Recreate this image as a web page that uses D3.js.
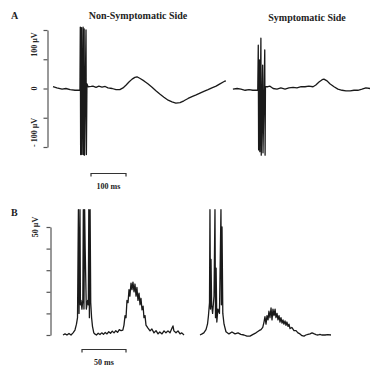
<!DOCTYPE html>
<html><head><meta charset="utf-8">
<script src="https://cdn.jsdelivr.net/npm/d3@7"></script>
<style>
html,body{margin:0;padding:0;background:#fff;}
svg text{font-family:"Liberation Serif","Times New Roman",serif;font-weight:bold;fill:#222;}
</style></head>
<body><svg id="c" width="370" height="366"></svg>
<script>
// ---------- DATA ----------
// Panel A (time in ms, amplitude in µV)
const aNonTime = [0,11,26,37,49,63,74,77,78,79,81.5,82.5,86,86.8,89,90,94.3,95.4,97,100,109,114,123,131,140,149,157,169,180,191,200,209,217,226,234,240,249,260,271,283,294,306,317,329,340,351,363,374,386,397,409,420,431,443,454,466,477,489,494];
const aNonVal  = [3,1,-1,0,-2,-3,-3,-3,105,-113,104,-113,105,-113,102,-114,100,-113,8,3,3.5,4,2,4,2.5,3.5,1,0,-2,-2,1,6,11,16,19,20,17,13,8,2,-4,-10,-15,-20,-23,-25,-24,-21,-17,-14,-11,-8,-5,-2,1,4,8,12,13];
const aSymTime = [514,526,537,549,560,571,583,585,586.5,587.5,590,591,594,595,599,600,605,606,607,614,620,629,640,651,663,674,686,697,709,720,731,743,751,760,769,774,783,791,803,814,826,837,849,860,871,883,894,906];
const aSymVal  = [-1,0,-1,-3,-2,-3,-3,-3,74,-105,49,-108,86,-114,40,-110,66,-114,3,3,4,0,-1,1,-1,1,2,1,3,3,4,3,6,11,15,16,13,8,3,-1,-3,-4,-4,-3,-3,-1,1,0];
const aTicks = [-100,-50,0,50,100];
const aTickLabels = [{v:75,t:"100 µV"},{v:0,t:"0"},{v:-75,t:"- 100 µV"}];
const aScaleBar = {from:108.6, to:208.6, label:"100 ms"};

// Panel B (time in ms, rectified amplitude in µV)
const bNonTime = [0,2.3,4.5,6.8,9.1,11.4,13.6,15.3,16.5,17.5,18.2,19.3,19.8,20.5,21.5,22.5,23.1,23.8,24.6,25.2,26.5,28,28.8,29.3,30,30.8,31.5,32.5,33.5,35,36,38,40,42,44,46,48,50,52,54,56,58,60,62,64,66,68,69.3,70.5,71.6,72.7,73.9,75,76,77.3,78.4,79.5,80.7,81.8,83,84,85.2,86.4,87.5,88.6,89.8,91,92,93.2,94.3,96.6,98.9,101,103.4,105.7,108,110,112.5,114.8,117,119.3,121.6,123.9,125,126,128.4,130.7,133,135,137.5];
const bNonVal  = [0,0.5,0,0.7,0,1,2.3,5,8,58,10,58,14,16,12,16,58,12,58,40,12,16,14,58,8,58,15,8,4,1,0.5,0,0.8,0.2,1,0.3,1.2,0.5,1.5,0.8,1.8,1,2,1.2,2.5,2,2.3,4.6,9,8,16,15,21,18,24,21,24.5,20,23.6,18,22,16,19.4,14,17,11.6,13.4,8,9,4.6,3.2,1.9,2.8,1,2,0.5,1.4,0.5,1.9,1,1.9,1,3.2,4.2,1.9,1,1.9,0.5,1,0];
const bSymTime = [155.7,158,160,162.5,164.2,165.3,166.5,167,167.6,168.2,168.9,170,171.6,172.7,173.3,174,174.8,176,177.8,179.5,180,180.7,181.6,183,185.2,188.6,192,195.5,198.9,202,205.7,209,212.5,216,219.3,222.7,225,227,228.4,229.5,230.7,231.8,233,234,235.2,236.4,237.5,238.6,239.8,241,242,243.2,244.3,245.5,246.6,247.7,248.9,250,251,252.3,253.4,254.5,255.7,256.8,258,260,262.5,264.8,267,269.3,271.6,273.9,276,278.4,280.7,283,285,287.5,289.8,292,294,297.7,301,304.5];
const bSymVal  = [0,0.5,1,2.5,5,9,15,58,12,35,14,10,18,58,8,31,6,12,10,58,14,50,10,5,1.5,0.5,1.4,0.5,1,0.3,0,-0.5,-0.5,0.3,1,2,2.5,3.5,6,8.5,5,9,7,11,8,12.5,7,12,9,12,8,10,7,9,6,8,5.5,7,5,6.5,4.5,6,4,5,3,3.5,2,2,1,0.5,-0.3,-0.5,0,0.3,0.5,1,0.6,0.2,0,0.3,0,0,0.2,0];
const bTicks = [0,10,20,30,40,50];
const bTickLabels = [{v:50,t:"50 µV"}];
const bScaleBar = {from:21.6, to:71.6, label:"50 ms"};

const panelLetters = ["A","B"];
const titles = ["Non-Symptomatic Side","Symptomatic Side"];

// ---------- DRAW ----------
const svg = d3.select("#c");
const ink = "#1a1a1a";

// Panel A scales
const xA = d3.scaleLinear().domain([0,1000]).range([53,403]);
const yA = d3.scaleLinear().domain([-100,100]).range([147,30]);
// Panel B scales
const xB = d3.scaleLinear().domain([0,100]).range([63,151]);
const yB = d3.scaleLinear().domain([0,50]).range([335,227]);

function trace(x,y,ts,vs){
  const pts = ts.map((t,i)=>[t,vs[i]]);
  svg.append("path").datum(pts)
    .attr("d", d3.line().x(d=>x(d[0])).y(d=>y(d[1])))
    .attr("fill","none").attr("stroke",ink).attr("stroke-width",1.3)
    .attr("stroke-linejoin","round");
}
trace(xA,yA,aNonTime,aNonVal);
trace(xA,yA,aSymTime,aSymVal);
trace(xB,yB,bNonTime,bNonVal);
trace(xB,yB,bSymTime,bSymVal);

// Axes
function yAxis(y, ticks, xPos){
  const g = svg.append("g").attr("transform",`translate(${xPos},0)`)
    .call(d3.axisLeft(y).tickValues(ticks).tickSize(4).tickSizeOuter(0).tickFormat(""));
  g.select(".domain").attr("stroke","#555").attr("stroke-width",1.2);
  g.selectAll(".tick line").attr("stroke","#555").attr("stroke-width",1.2);
}
yAxis(yA, aTicks, 47.5);
yAxis(yB, bTicks, 50.5);

function yLabels(y, labels, xPos){
  labels.forEach(l=>{
    svg.append("text").attr("transform",`translate(${xPos},${y(l.v)}) rotate(-90)`)
      .attr("text-anchor","middle").attr("dy","0.35em")
      .style("font-size","8px").text(l.t);
  });
}
yLabels(yA, aTickLabels, 34);
yLabels(yB, bTickLabels, 35);

// Scale bars
function scaleBar(x, sb, yPos, labelY){
  const x0 = x(sb.from), x1 = x(sb.to);
  svg.append("path")
    .attr("d",`M${x0},${yPos+3}V${yPos}H${x1}V${yPos+3}`)
    .attr("fill","none").attr("stroke","#333").attr("stroke-width",1.2);
  svg.append("text").attr("x",(x0+x1)/2).attr("y",labelY)
    .attr("text-anchor","middle").style("font-size","8px").text(sb.label);
}
scaleBar(xA, aScaleBar, 173.5, 189);
scaleBar(xB, bScaleBar, 349.5, 365);

// Letters and titles
svg.append("text").attr("x",11).attr("y",19).style("font-size","10px").text(panelLetters[0]);
svg.append("text").attr("x",11).attr("y",216).style("font-size","10px").text(panelLetters[1]);
svg.append("text").attr("x",138).attr("y",19).attr("text-anchor","middle").style("font-size","10px").text(titles[0]);
svg.append("text").attr("x",307).attr("y",21).attr("text-anchor","middle").style("font-size","10px").text(titles[1]);
</script></body></html>
